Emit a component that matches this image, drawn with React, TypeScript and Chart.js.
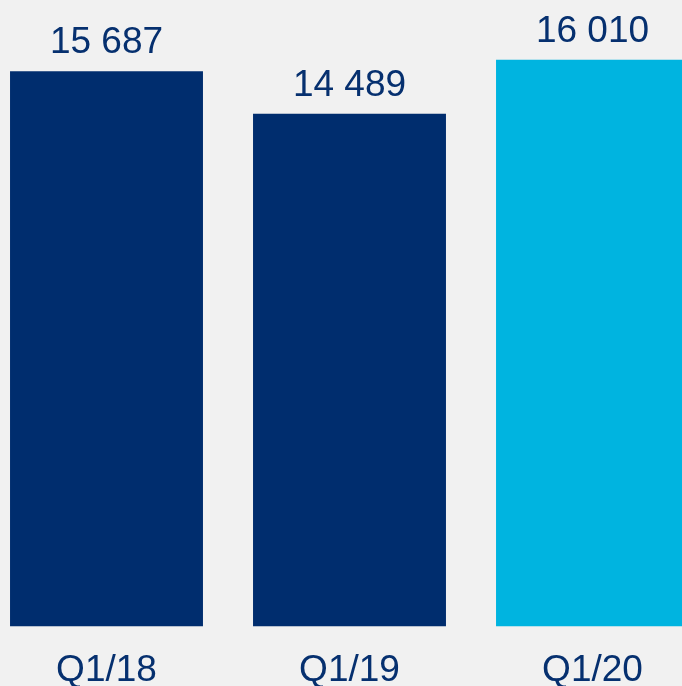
import React, { useEffect, useRef } from "react";
import { Chart, registerables } from "chart.js";

Chart.register(...registerables);

const categories = ["Q1/18", "Q1/19", "Q1/20"];
const values = [15687, 14489, 16010];
const valueLabels = ["15 687", "14 489", "16 010"];
const barColors = ["#002d6e", "#002d6e", "#00b4e0"];

const TEXT_COLOR = "#06306f";
const FONT_FAMILY = "'Liberation Sans', Arial, sans-serif";

const valueLabelPlugin = {
  id: "valueLabels",
  afterDatasetsDraw(chart: any) {
    const ctx = chart.ctx;
    const meta = chart.getDatasetMeta(0);
    ctx.save();
    ctx.font = `37px ${FONT_FAMILY}`;
    ctx.fillStyle = TEXT_COLOR;
    ctx.textAlign = "center";
    ctx.textBaseline = "alphabetic";
    meta.data.forEach((el: any, i: number) => {
      ctx.fillText(valueLabels[i], el.x, el.y - 18);
    });
    ctx.restore();
  },
};

export default function App() {
  const ref = useRef<HTMLCanvasElement | null>(null);

  useEffect(() => {
    if (!ref.current) return;
    const chart = new Chart(ref.current, {
      type: "bar",
      data: {
        labels: categories,
        datasets: [
          {
            data: values,
            backgroundColor: barColors,
            borderWidth: 0,
            barPercentage: 0.794,
            categoryPercentage: 1,
          },
        ],
      },
      options: {
        responsive: false,
        animation: false,
        devicePixelRatio: 1,
        layout: { padding: { top: 0, left: 0, right: 0, bottom: 35 } },
        plugins: {
          legend: { display: false },
          tooltip: { enabled: false },
        },
        scales: {
          x: {
            grid: { display: false },
            border: { display: false },
            ticks: {
              color: TEXT_COLOR,
              font: { family: FONT_FAMILY, size: 37 },
              padding: 14,
              maxRotation: 0,
            },
          },
          y: {
            display: false,
            min: 0,
            max: 17700,
          },
        },
      },
      plugins: [valueLabelPlugin],
    });
    return () => chart.destroy();
  }, []);

  return (
    <div
      style={{
        position: "fixed",
        left: 0,
        top: 0,
        width: 682,
        height: 686,
        overflow: "hidden",
        background: "#f1f1f1",
      }}
    >
      <canvas
        ref={ref}
        width={729}
        height={742}
        style={{ position: "absolute", left: -15, top: 0, width: 729, height: 742 }}
      />
    </div>
  );
}
